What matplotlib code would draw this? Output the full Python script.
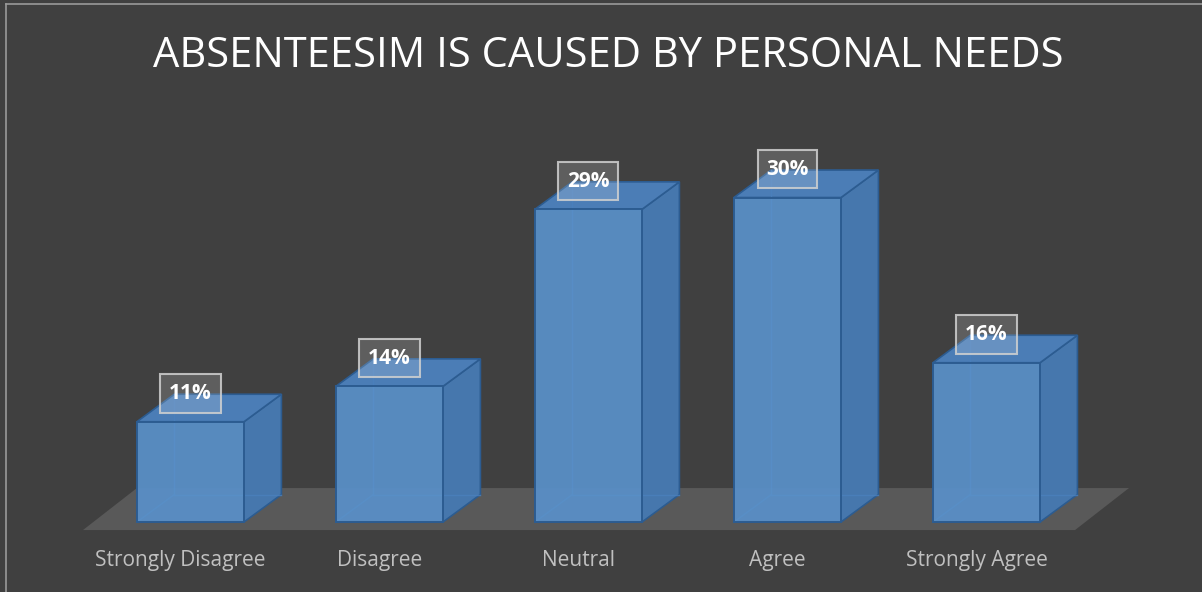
import matplotlib
matplotlib.use("Agg")
import matplotlib.pyplot as plt
from matplotlib.patches import Polygon, Rectangle

categories = ["Strongly Disagree", "Disagree", "Neutral", "Agree", "Strongly Agree"]
values = [11, 14, 29, 30, 16]
labels = ["11%", "14%", "29%", "30%", "16%"]
title = "ABSENTEESIM IS CAUSED BY PERSONAL NEEDS"

BG = "#404040"
FLOOR = "#595959"
FRONT = "#5990c9"
SIDE = "#4677ad"
TOP = "#4b7db6"
EDGE = "#2c5c91"

# layout in data units (x: category index, y: percent)
base = 2.5          # floor level of the value axis
half_w = 0.269      # half width of a bar's front face
depth_x, depth_y = 0.188, 2.33

fig = plt.figure(figsize=(12.02, 5.92), dpi=100, facecolor=BG)
ax = fig.add_axes([0, 0, 1, 1], facecolor=BG)
ax.set_xlim(-0.957, 5.083)
ax.set_ylim(-3.43, 46.74)
ax.axis("off")

# floor
fl_front, fl_back = 1.82, 5.38
fl_left, fl_right, fl_dx = -0.54, 4.445, 0.271
ax.add_patch(Polygon([(fl_left, fl_front), (fl_right, fl_front),
                      (fl_right + fl_dx, fl_back), (fl_left + fl_dx, fl_back)],
                     closed=True, facecolor=FLOOR, edgecolor="none", zorder=1))

for i, v in enumerate(values):
    x0, x1 = i - half_w, i + half_w
    bx0, bx1 = x0 + depth_x, x1 + depth_x
    b0, b1 = base + depth_y, v + depth_y
    # side and top faces
    ax.add_patch(Polygon([(x1, base), (bx1, b0), (bx1, b1), (x1, v)],
                         facecolor=SIDE, edgecolor=EDGE, lw=1.2, zorder=2))
    ax.add_patch(Polygon([(x0, v), (x1, v), (bx1, b1), (bx0, b1)],
                         facecolor=TOP, edgecolor=EDGE, lw=1.2, zorder=2))
    # hidden edges seen through the front face
    for xs, ys in (([bx0, bx0], [b0, b1]), ([bx0, bx1], [b0, b0]),
                   ([x0, bx0], [base, b0])):
        ax.plot(xs, ys, color="#4a80bd", lw=1, alpha=0.8, zorder=2)
    # front face
    ax.add_patch(Rectangle((x0, base), 2 * half_w, v - base, facecolor=FRONT,
                           edgecolor="none", alpha=0.93, zorder=3))
    ax.add_patch(Rectangle((x0, base), 2 * half_w, v - base, facecolor="none",
                           edgecolor=EDGE, lw=1.4, zorder=3))
    # value label
    ax.text(i, v + 2.4, labels[i], ha="center", va="center", color="white",
            fontsize=15, fontweight="bold", family="Open Sans", zorder=5,
            bbox=dict(boxstyle="square,pad=0.42", facecolor=(1, 1, 1, 0.16),
                      edgecolor=(0.82, 0.82, 0.82, 0.85), linewidth=1.5))
    # category label
    ax.text(i - 0.05, -0.8, categories[i], ha="center", va="center",
            color="#c0c0c0", fontsize=15, family="Open Sans", zorder=5)

fig.text(0.506, 0.905, title, ha="center", va="center", color="white",
         fontsize=30, family="Open Sans")

# thin frame along the top and left edges
fig.add_artist(plt.Line2D([6 / 1202, 6 / 1202], [0, 1 - 4 / 592],
                          transform=fig.transFigure, color="#9a9a9a", lw=1.2))
fig.add_artist(plt.Line2D([6 / 1202, 1], [1 - 4 / 592, 1 - 4 / 592],
                          transform=fig.transFigure, color="#9a9a9a", lw=1.2))

fig.savefig("out.png", dpi=100, facecolor=BG)
